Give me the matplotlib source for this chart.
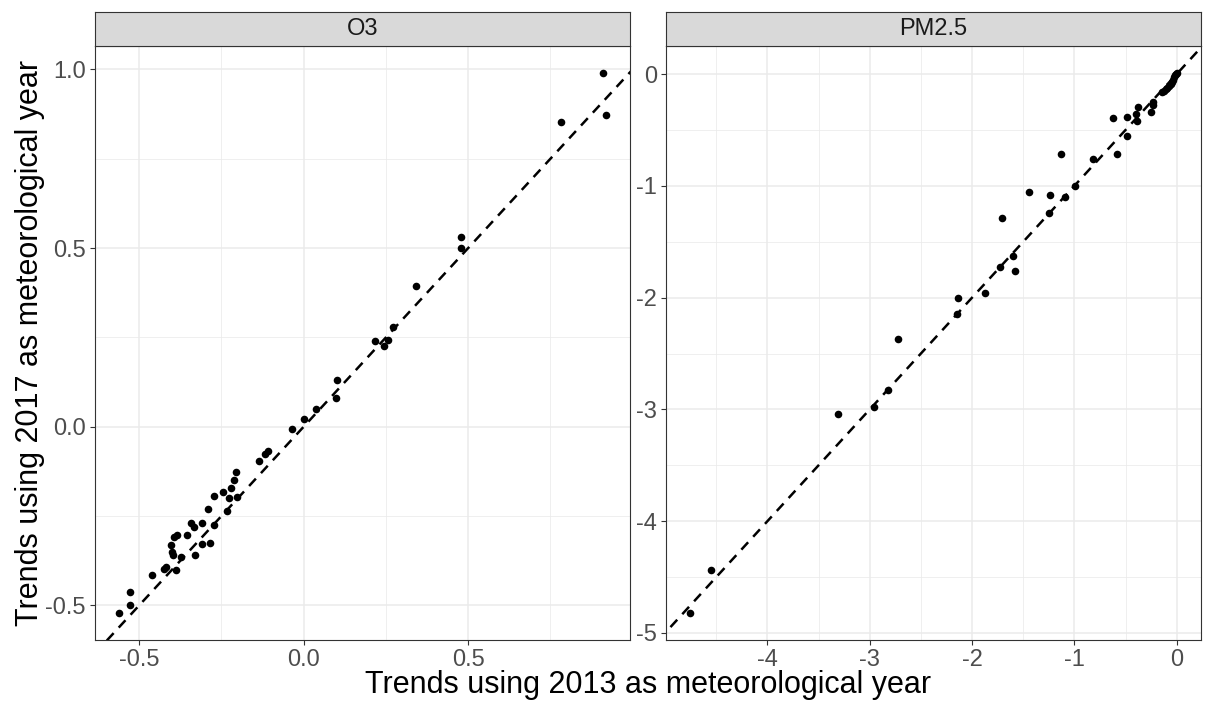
import numpy as np
import matplotlib
matplotlib.use("Agg")
import matplotlib.pyplot as plt
from matplotlib.ticker import MultipleLocator, FormatStrFormatter

plt.rcParams['font.family'] = ['Liberation Sans', 'DejaVu Sans']
plt.rcParams['axes.unicode_minus'] = False

# O3 trends (x: 2013 met year, y: 2017 met year)
o3_x = [-0.560, -0.527, -0.527, -0.460, -0.424, -0.417, -0.401, -0.389, -0.404, -0.397,
        -0.374, -0.394, -0.384, -0.354, -0.329, -0.308, -0.283, -0.341, -0.332, -0.310,
        -0.271, -0.290, -0.273, -0.233, -0.245, -0.226, -0.203, -0.220, -0.210, -0.206,
        -0.135, -0.116, -0.108, -0.036, 0.000, 0.038, 0.099, 0.103, 0.218, 0.245,
        0.255, 0.273, 0.341, 0.477, 0.477, 0.783, 0.910, 0.918]
o3_y = [-0.521, -0.498, -0.463, -0.416, -0.399, -0.393, -0.350, -0.402, -0.332, -0.360,
        -0.364, -0.307, -0.304, -0.304, -0.360, -0.329, -0.325, -0.269, -0.280, -0.268,
        -0.274, -0.229, -0.194, -0.236, -0.182, -0.200, -0.196, -0.170, -0.150, -0.126,
        -0.095, -0.075, -0.068, -0.007, 0.022, 0.051, 0.080, 0.130, 0.241, 0.227,
        0.243, 0.278, 0.394, 0.501, 0.531, 0.853, 0.990, 0.872]

# PM2.5 trends
pm_x = [-4.754, -4.552, -3.306, -2.959, -2.819, -2.728, -2.146, -2.137, -1.877, -1.726,
        -1.707, -1.596, -1.583, -1.440, -1.244, -1.235, -1.134, -1.094, -0.993, -0.818,
        -0.619, -0.586, -0.482, -0.482, -0.394, -0.384, -0.375, -0.248, -0.231, -0.231,
        -0.140, -0.120, -0.107, -0.090, -0.075, -0.060, -0.049, -0.035, -0.026, -0.012,
        -0.003, 0.000]
pm_y = [-4.822, -4.435, -3.043, -2.980, -2.825, -2.369, -2.144, -2.003, -1.955, -1.725,
        -1.284, -1.630, -1.761, -1.054, -1.242, -1.078, -0.713, -1.099, -0.997, -0.757,
        -0.395, -0.716, -0.380, -0.551, -0.359, -0.419, -0.293, -0.341, -0.275, -0.248,
        -0.160, -0.150, -0.135, -0.120, -0.105, -0.085, -0.069, -0.050, -0.030, -0.012,
        0.000, 0.010]

panels = [("O3", o3_x, o3_y, 0.5, "%.1f"), ("PM2.5", pm_x, pm_y, 1, "%d")]

W, H = 1205, 702
fig = plt.figure(figsize=(W / 100, H / 100), dpi=100)

lefts = [95, 666]
pw = 535
top, bottom = 46, 640
strip_top = 12

for (name, xs, ys, step, fmt), left in zip(panels, lefts):
    ax = fig.add_axes([left / W, 1 - bottom / H, pw / W, (bottom - top) / H])
    xs = np.array(xs)
    ys = np.array(ys)
    # ggplot style 5% expansion
    xr = xs.max() - xs.min()
    yr = ys.max() - ys.min()
    ax.set_xlim(xs.min() - 0.05 * xr, xs.max() + 0.05 * xr)
    ax.set_ylim(ys.min() - 0.05 * yr, ys.max() + 0.05 * yr)

    ax.xaxis.set_major_locator(MultipleLocator(step))
    ax.yaxis.set_major_locator(MultipleLocator(step))
    ax.xaxis.set_minor_locator(MultipleLocator(step / 2))
    ax.yaxis.set_minor_locator(MultipleLocator(step / 2))
    ax.xaxis.set_major_formatter(FormatStrFormatter(fmt))
    ax.yaxis.set_major_formatter(FormatStrFormatter(fmt))

    ax.grid(which='major', color='#EBEBEB', linewidth=1.1, zorder=0)
    ax.grid(which='minor', color='#EBEBEB', linewidth=0.55, zorder=0)
    ax.set_axisbelow(True)
    ax.tick_params(which='minor', length=0)
    ax.tick_params(which='major', length=3.5, width=0.8, color='#333333',
                   labelsize=17, labelcolor='#4D4D4D', pad=3)
    for sp in ax.spines.values():
        sp.set_color('#333333')
        sp.set_linewidth(0.8)

    lo = min(ax.get_xlim()[0], ax.get_ylim()[0])
    hi = max(ax.get_xlim()[1], ax.get_ylim()[1])
    ax.plot([lo, hi], [lo, hi], color='black', linewidth=1.8,
            linestyle=(0, (4, 3)), zorder=2)
    ax.scatter(xs, ys, s=30, color='black', linewidths=0, zorder=3)

    sax = fig.add_axes([left / W, 1 - top / H, pw / W, (top - strip_top) / H])
    sax.set_facecolor('#D9D9D9')
    sax.set_xticks([])
    sax.set_yticks([])
    for sp in sax.spines.values():
        sp.set_color('#333333')
        sp.set_linewidth(0.8)
    sax.text(0.5, 0.5, name, ha='center', va='center', fontsize=17,
             color='#1A1A1A', transform=sax.transAxes)

fig.text((95 + 1201) / 2 / W, 1 - 685 / H, "Trends using 2013 as meteorological year",
         ha='center', va='center', fontsize=22)
fig.text(30 / W, 1 - 343 / H, "Trends using 2017 as meteorological year",
         ha='center', va='center', rotation=90, fontsize=22)

fig.savefig("out.png", dpi=100)
